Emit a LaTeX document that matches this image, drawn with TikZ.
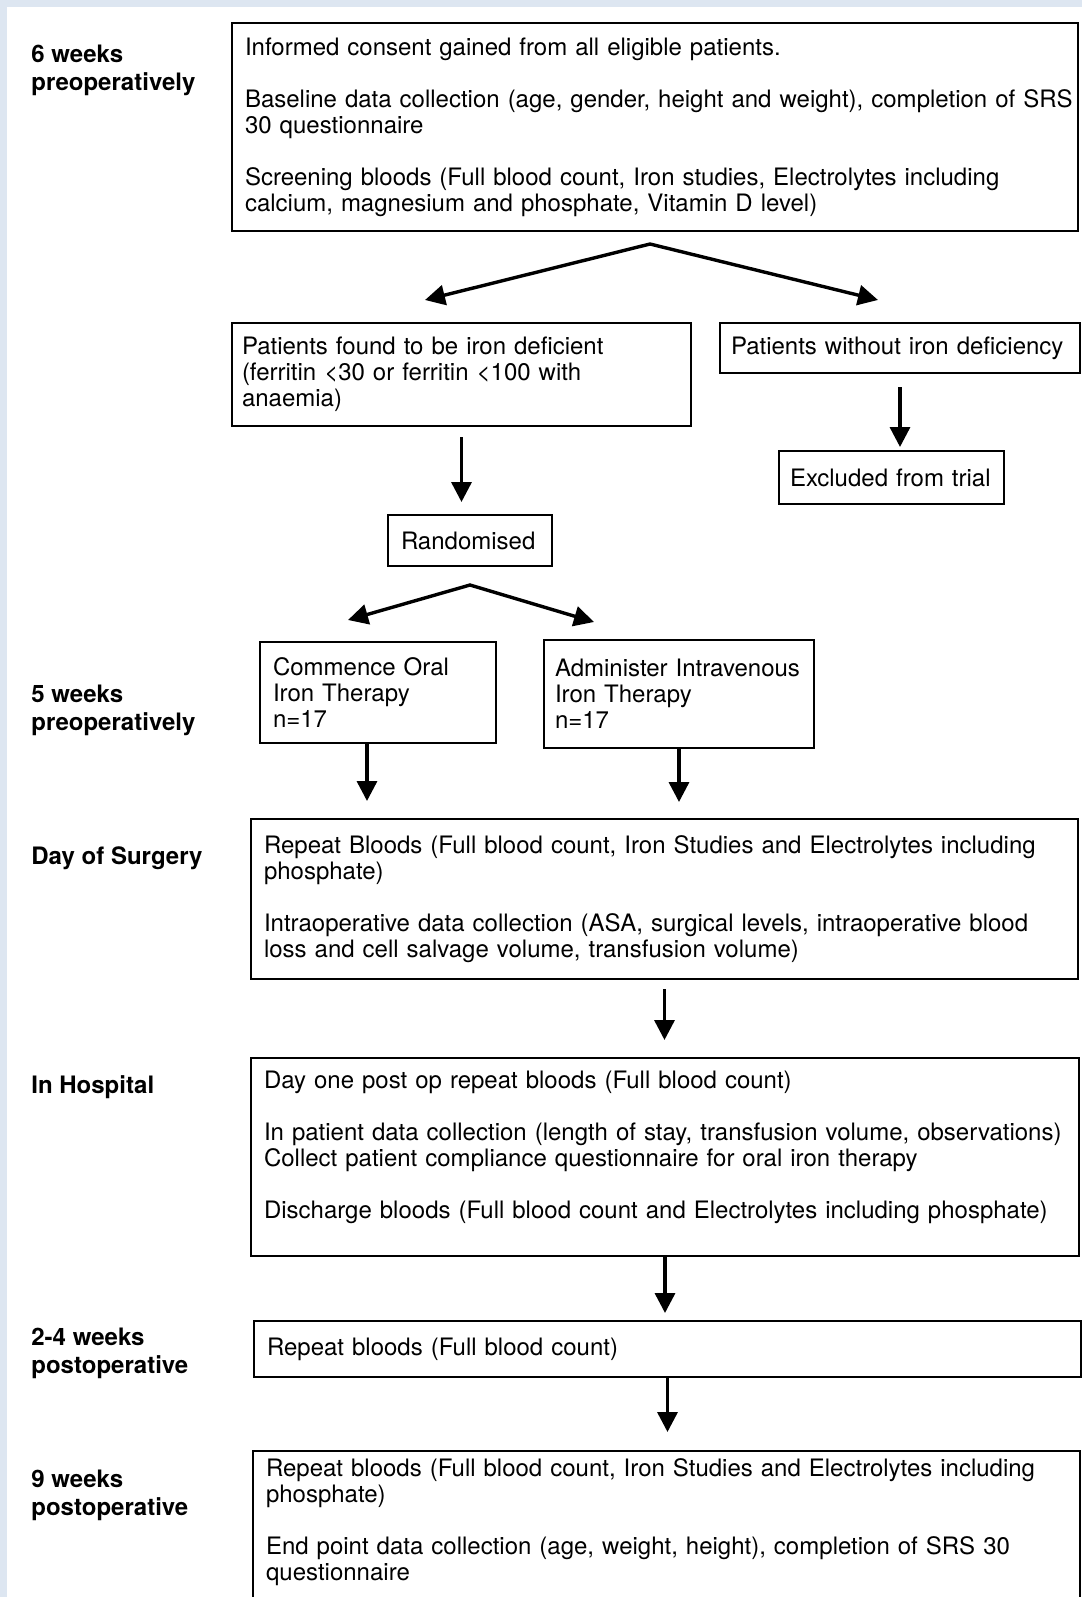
\documentclass[tikz,border=0pt]{standalone}
\usepackage{fontspec}
\setmainfont{TeX Gyre Heros}
\usetikzlibrary{arrows.meta,calc}
\definecolor{cornice}{RGB}{221,230,241}
\tikzset{
  fase/.style={draw=black, line width=1pt, anchor=north west, align=left,
    inner xsep=6.5pt, inner ysep=0pt, font=\fontsize{12}{13}\selectfont},
  etichetta/.style={anchor=base west, align=left, inner sep=0pt,
    font=\fontsize{12}{14}\selectfont\bfseries},
  freccia/.style={-{Triangle[length=10pt,width=10pt]}, line width=1.7pt},
  forcella/.style={{Triangle[length=10pt,width=10pt]}-{Triangle[length=10pt,width=10pt]},
    line width=1.7pt, line join=miter}
}
\begin{document}
\begin{tikzpicture}[x=0.5pt, y=-0.5pt]
    \useasboundingbox (0,0) rectangle (1082,1597);
    \clip (0,0) rectangle (1082,1597);

    % cornice azzurra
    \fill[cornice] (0,0) rectangle (1082,1597);
    \fill[white] (7,7) rectangle (1090,1610);

    % ----------------------------------------------------
    % Etichette temporali (base = ultima riga)
    % ----------------------------------------------------
    \node[etichetta] (t1) at (31,90) {6 weeks\\preoperatively};
    \node[etichetta] (t2) at (31,730) {5 weeks\\preoperatively};
    \node[etichetta] (t3) at (31,864) {Day of Surgery};
    \node[etichetta] (t4) at (31,1093) {In Hospital};
    \node[etichetta] (t5) at (31,1373) {2-4 weeks\\postoperative};
    \node[etichetta] (t6) at (31,1515) {9 weeks\\postoperative};

    % ----------------------------------------------------
    % Screening e randomizzazione
    % ----------------------------------------------------
    \node[fase, text width=410pt, minimum height=104pt] (consenso) at (231,22)
        {Informed consent gained from all eligible patients.\\[13pt]
         \mbox{Baseline data collection (age, gender, height and weight), completion of SRS}\\
         30 questionnaire\\[13pt]
         Screening bloods (Full blood count, Iron studies, Electrolytes including\\
         calcium, magnesium and phosphate, Vitamin D level)};
    \node[fase, inner xsep=5pt, text width=219.5pt, minimum height=51.5pt] (carenti) at (231,322)
        {Patients found to be iron deficient\\(ferritin <30 or ferritin <100 with\\anaemia)};
    \node[fase, inner xsep=5.5pt, text width=169pt, minimum height=25pt] (noncarenti) at (719,322)
        {Patients without iron deficiency};
    \node[fase, inner xsep=5.5pt, text width=101.5pt, minimum height=26.5pt] (esclusi) at (778,450)
        {Excluded from trial};
    \node[fase, text width=69pt, minimum height=25.5pt] (random) at (387,514) {Randomised};
    \node[fase, text width=105pt, minimum height=50.5pt] (orale) at (259,641)
        {Commence Oral\\Iron Therapy\\n=17};
    \node[fase, inner xsep=5.5pt, text width=124pt, minimum height=54pt] (endovena) at (543,639)
        {Administer Intravenous\\Iron Therapy\\n=17};

    % ----------------------------------------------------
    % Chirurgia e follow-up
    % ----------------------------------------------------
    \node[fase, text width=400.5pt, minimum height=80pt] (chirurgia) at (250,818)
        {Repeat Bloods (Full blood count, Iron Studies and Electrolytes including\\
         phosphate)\\[13pt]
         Intraoperative data collection (ASA, surgical levels, intraoperative blood\\
         loss and cell salvage volume, transfusion volume)};
    \node[fase, text width=401pt, minimum height=99pt] (ospedale) at (250,1057)
        {Day one post op repeat bloods (Full blood count)\\[13pt]
         \mbox{In patient data collection (length of stay, transfusion volume, observations)}\\
         Collect patient compliance questionnaire for oral iron therapy\\[13pt]
         Discharge bloods (Full blood count and Electrolytes including phosphate)\rule[-12pt]{0pt}{0pt}};
    \node[fase, text width=400.5pt, minimum height=28pt] (ripeti) at (253,1320)
        {Repeat bloods (Full blood count)};
    \node[fase, text width=400.5pt, inner ysep=4pt] (finale) at (252,1450)
        {Repeat bloods (Full blood count, Iron Studies and Electrolytes including\\
         phosphate)\\[13pt]
         End point data collection (age, weight, height), completion of SRS 30\\
         questionnaire\rule[-20pt]{0pt}{0pt}};

    % ----------------------------------------------------
    % Frecce
    % ----------------------------------------------------
    \coordinate (bivio1) at (650,244);
    \coordinate (punta1a) at (425,300);
    \coordinate (punta1b) at (878,300);
    \draw[forcella] (punta1a) -- (bivio1) -- (punta1b);

    \draw[freccia, shorten >=1.5pt] ([yshift=-6.5pt]noncarenti.south) -- (noncarenti.south |- esclusi.north);
    \draw[freccia, shorten >=6pt] ([yshift=-5pt]carenti.south) -- (carenti.south |- random.north);

    \coordinate (bivio2) at ([yshift=-9pt]random.south);
    \coordinate (punta2a) at (348,620);
    \coordinate (punta2b) at (594,622);
    \draw[forcella] (punta2a) -- (bivio2) -- (punta2b);

    \coordinate (uscitaorale) at ([xshift=-5.5pt]orale.south);
    \draw[freccia, shorten >=8.5pt] (uscitaorale) -- (uscitaorale |- chirurgia.north);
    \draw[freccia, shorten >=8pt] (endovena.south) -- (endovena.south |- chirurgia.north);
    \draw[freccia, shorten >=8.5pt] ([yshift=-4.5pt]chirurgia.south) -- (chirurgia.south |- ospedale.north);
    \draw[freccia, shorten >=3.5pt] (ospedale.south) -- (ospedale.south |- ripeti.north);
    \draw[freccia, shorten >=9pt] (ripeti.south) -- (ripeti.south |- finale.north);

\end{tikzpicture}
\end{document}
